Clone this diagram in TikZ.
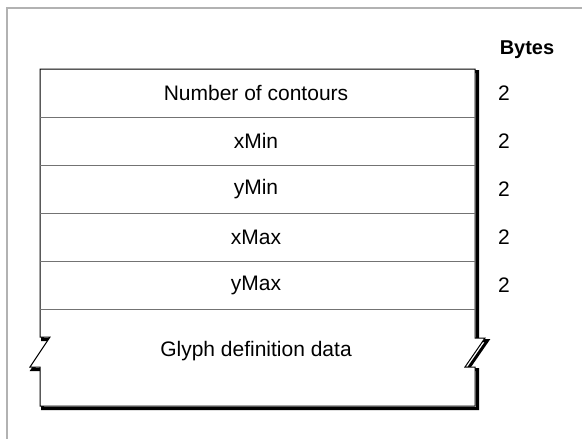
\documentclass[tikz,border=0pt]{standalone}
\usepackage{fontspec}
\setmainfont{Liberation Sans}
\begin{document}
\begin{tikzpicture}[x=1pt,y=-1pt,
  lbl/.style={font=\fontsize{21}{24}\selectfont, inner sep=0pt, anchor=center},
  hdr/.style={font=\fontsize{20}{23}\selectfont\bfseries, inner sep=0pt, anchor=center},
  sep/.style={draw=black!55, line width=1pt},
  frame/.style={draw=black!30, line width=1.2pt}]
\useasboundingbox (0,0) rectangle (582,439);
% outer frame
\draw[frame] (582,8) -- (7,8) -- (7,439);
% shadow
\draw[line width=3pt, black, shift={(2.5,2.5)}]
  (40,69) -- (475,69) -- (475,338) -- (485,338) -- (465,367) -- (475,367) -- (475,406) -- (40,406) -- (40,367) -- (30,367) -- (50,337) -- (40,337) -- cycle;
% main box
\draw[line width=1pt, draw=black, fill=white]
  (40,69) -- (475,69) -- (475,338) -- (485,338) -- (465,367) -- (475,367) -- (475,406) -- (40,406) -- (40,367) -- (30,367) -- (50,337) -- (40,337) -- cycle;
% separators
\foreach \yy in {117,165,213,261,309} \draw[sep] (40,\yy) -- (475,\yy);
% labels
\node[lbl] (r1) at (256,93) {Number of contours};
\node[lbl] (r2) at (256,141) {xMin};
\node[lbl] (r3) at (256,189) {yMin};
\node[lbl] (r4) at (256,237) {xMax};
\node[lbl] (r5) at (256,285) {yMax};
\node[lbl] (r6) at (256,351) {Glyph definition data};
\node[hdr] (bytes) at (527,50) {Bytes};
\node[lbl] (b1) at (504,93) {2};
\node[lbl] (b2) at (504,141) {2};
\node[lbl] (b3) at (504,189) {2};
\node[lbl] (b4) at (504,237) {2};
\node[lbl] (b5) at (504,285) {2};
\end{tikzpicture}
\end{document}
